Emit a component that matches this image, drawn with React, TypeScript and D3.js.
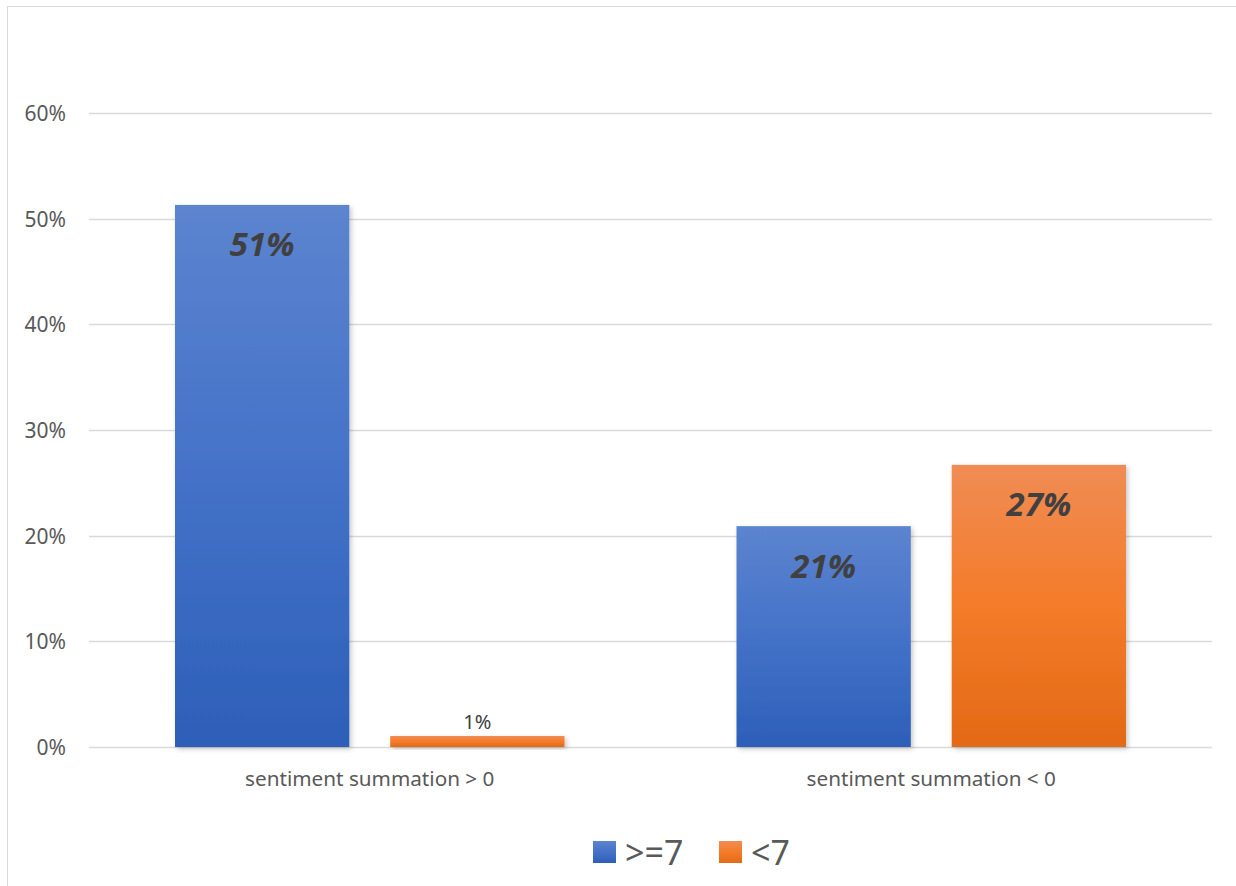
import { useEffect, useRef } from "react";
import * as d3 from "d3";

const categories = ["sentiment summation > 0", "sentiment summation < 0"];
const seriesNames = [">=7", "<7"];
const highValues = [0.513, 0.209];
const lowValues = [0.0104, 0.267];
const labelText = [["51%", "21%"], ["1%", "27%"]];
const yTicks = [0, 0.1, 0.2, 0.3, 0.4, 0.5, 0.6];

const W = 1236;
const H = 886;

const App = () => {
    const svgRef = useRef<SVGSVGElement>(null);

    useEffect(() => {
        if (!svgRef.current) return;
        const svg = d3.select(svgRef.current);
        svg.selectAll("*").remove();

        const margin = { top: 113, right: 24, bottom: 139, left: 89 };
        const innerW = W - margin.left - margin.right;
        const innerH = H - margin.top - margin.bottom;
        const font = "'Noto Sans', 'Open Sans', sans-serif";

        const defs = svg.append("defs");
        const grads = [
            { id: "gBlue", stops: ["#5C84CF", "#4472C8", "#2D5FB8"] },
            { id: "gOrange", stops: ["#F08C55", "#F47B29", "#E36A15"] },
        ];
        grads.forEach((g) => {
            const lg = defs.append("linearGradient").attr("id", g.id)
                .attr("x1", 0).attr("y1", 0).attr("x2", 0).attr("y2", 1);
            g.stops.forEach((c, i) => {
                lg.append("stop").attr("offset", `${i * 50}%`).attr("stop-color", c);
            });
        });
        const shadow = defs.append("filter").attr("id", "shadow")
            .attr("x", "-10%").attr("y", "-10%").attr("width", "130%").attr("height", "130%");
        shadow.append("feDropShadow").attr("dx", 2).attr("dy", 2).attr("stdDeviation", 2.5)
            .attr("flood-color", "#000").attr("flood-opacity", 0.22);

        svg.append("rect").attr("width", W).attr("height", H).attr("fill", "#fff");
        // chart frame
        svg.append("rect").attr("x", 7.5).attr("y", 6.5).attr("width", W).attr("height", H)
            .attr("fill", "none").attr("stroke", "#d9d9d9").attr("stroke-width", 1);

        const g = svg.append("g").attr("transform", `translate(${margin.left},${margin.top})`);

        const y = d3.scaleLinear().domain([0, 0.6]).range([innerH, 0]);
        const x0 = d3.scaleBand().domain(categories).range([0, innerW]).paddingInner(0).paddingOuter(0);
        const x1 = d3.scaleBand().domain(seriesNames).range([86, x0.bandwidth() - 86]).paddingInner(0.19);

        // gridlines
        g.selectAll(".grid").data(yTicks).enter().append("line")
            .attr("x1", 0).attr("x2", innerW)
            .attr("y1", (d) => Math.round(y(d)) + 0.5).attr("y2", (d) => Math.round(y(d)) + 0.5)
            .attr("stroke", "#d9d9d9").attr("stroke-width", 1.5);

        // y labels
        g.selectAll(".ylab").data(yTicks).enter().append("text")
            .attr("x", -23).attr("y", (d) => y(d))
            .attr("text-anchor", "end").attr("dominant-baseline", "central")
            .attr("font-family", font).attr("font-size", 21).attr("fill", "#595959")
            .text((d) => d3.format(".0%")(d));

        // x labels
        g.selectAll(".xlab").data(categories).enter().append("text")
            .attr("x", (d) => (x0(d) || 0) + x0.bandwidth() / 2).attr("y", innerH + 31)
            .attr("text-anchor", "middle").attr("dominant-baseline", "central")
            .attr("font-family", font).attr("font-size", 20.7).attr("fill", "#595959")
            .text((d) => d);

        const series = [highValues, lowValues];
        series.forEach((vals, si) => {
            const name = seriesNames[si];
            const fill = si === 0 ? "url(#gBlue)" : "url(#gOrange)";
            categories.forEach((c, ci) => {
                const v = vals[ci];
                const bx = (x0(c) || 0) + (x1(name) || 0);
                const bw = x1.bandwidth();
                g.append("rect")
                    .attr("x", bx).attr("y", y(v)).attr("width", bw).attr("height", innerH - y(v))
                    .attr("fill", fill).attr("filter", "url(#shadow)");
                const big = v > 0.05;
                g.append("text")
                    .attr("x", bx + bw / 2)
                    .attr("y", big ? y(v) + 39 : y(v) - 15)
                    .attr("text-anchor", "middle").attr("dominant-baseline", "central")
                    .attr("font-family", font)
                    .attr("font-size", big ? 33 : 20)
                    .attr("font-weight", big ? 700 : 400)
                    .attr("font-style", big ? "italic" : "normal")
                    .attr("fill", "#404040")
                    .text(labelText[si][ci]);
            });
        });

        // legend
        const legend = svg.append("g");
        const items = [
            { name: seriesNames[0], fill: "url(#gBlue)", x: 593 },
            { name: seriesNames[1], fill: "url(#gOrange)", x: 719 },
        ];
        items.forEach((it) => {
            legend.append("rect").attr("x", it.x).attr("y", 841).attr("width", 23).attr("height", 22)
                .attr("fill", it.fill);
            legend.append("text").attr("x", it.x + 32).attr("y", 852)
                .attr("dominant-baseline", "central")
                .attr("font-family", font).attr("font-size", 34).attr("fill", "#595959")
                .text(it.name);
        });
    }, []);

    return (
        <div style={{ position: "absolute", left: 0, top: 0 }}>
            <svg ref={svgRef} width={W} height={H} style={{ display: "block" }} />
        </div>
    );
};

export default App;
